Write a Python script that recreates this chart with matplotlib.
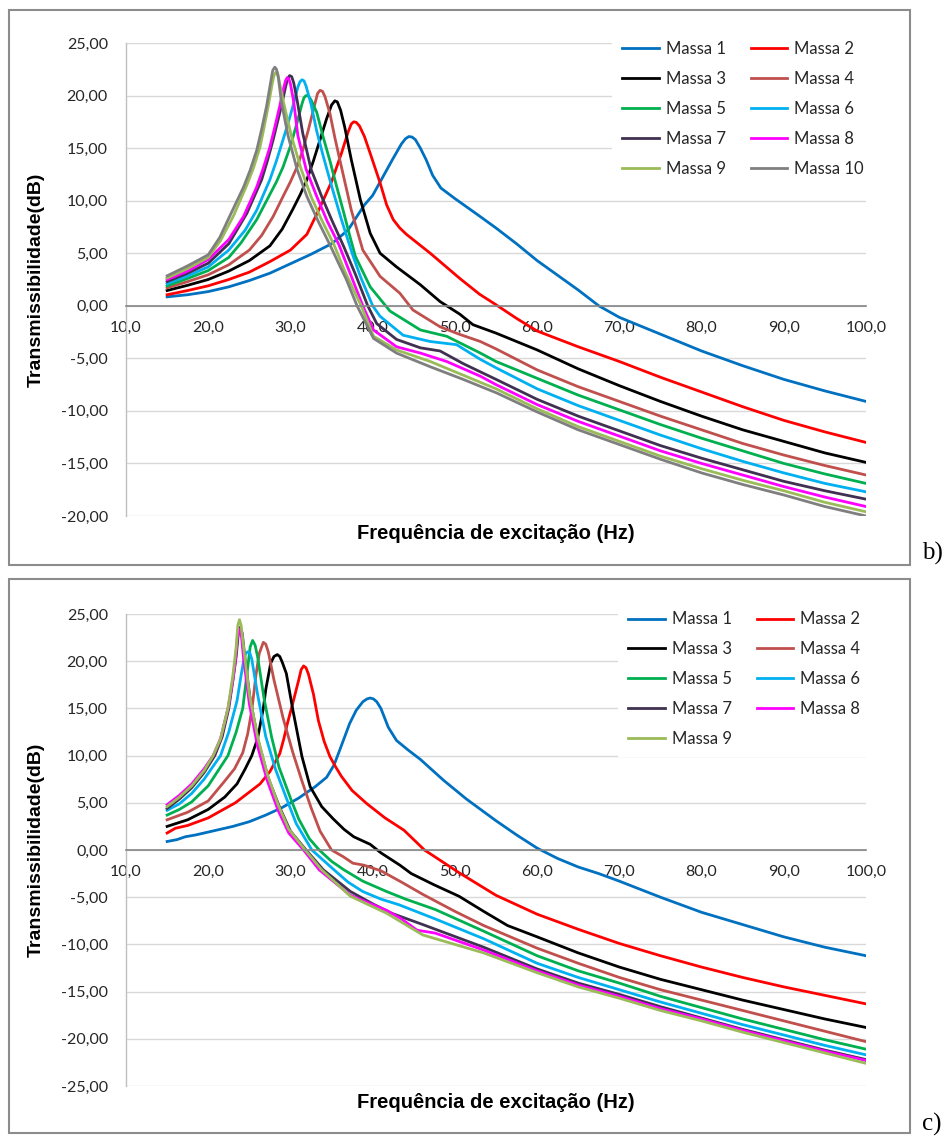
import matplotlib
matplotlib.use("Agg")
import matplotlib.pyplot as plt
from matplotlib.patches import Rectangle
from matplotlib.ticker import FuncFormatter, MultipleLocator

labels = ["Massa 1", "Massa 2", "Massa 3", "Massa 4", "Massa 5",
          "Massa 6", "Massa 7", "Massa 8", "Massa 9", "Massa 10"]
colors = ["#0070C0", "#FF0000", "#000000", "#C0504D", "#00B050",
          "#00B0F0", "#403152", "#FF00FF", "#9BBB59", "#7F7F7F"]

# ---- panel b) : 10 masses ----
b1_x = [15, 17.5, 20, 22.5, 25, 27.5, 30, 32.5, 35, 37, 39, 40, 41.2, 42.4, 43.5, 44.0, 44.4, 44.8, 45.2, 45.8, 46.5, 47.3, 48.3, 50, 52.7, 55, 57.5, 60, 62.5, 65, 67.5, 70, 75, 80, 85, 90, 95, 100]
b1_y = [0.85, 1.05, 1.35, 1.8, 2.4, 3.1, 4.0, 4.9, 5.9, 7.2, 9.6, 10.5, 12.2, 13.9, 15.4, 15.9, 16.1, 16.05, 15.8, 15.0, 13.9, 12.4, 11.2, 10.2, 8.7, 7.4, 5.9, 4.3, 2.9, 1.5, 0.0, -1.1, -2.7, -4.3, -5.7, -7.0, -8.1, -9.1]
b2_x = [15, 17.5, 20, 22.5, 25, 27.5, 30, 32, 33.5, 35, 36.2, 37.0, 37.4, 37.7, 38.0, 38.4, 39.0, 39.7, 40.9, 41.7, 42.5, 43.3, 44.1, 47, 50.6, 53, 55, 57.5, 60, 65, 70, 75, 80, 85, 90, 95, 100]
b2_y = [1.05, 1.45, 1.9, 2.5, 3.2, 4.2, 5.3, 6.8, 9.2, 11.8, 14.5, 16.5, 17.3, 17.5, 17.45, 17.1, 16.1, 14.5, 11.7, 9.6, 8.2, 7.4, 6.8, 5.0, 2.6, 1.1, 0.1, -1.2, -2.4, -3.9, -5.3, -6.8, -8.2, -9.6, -10.9, -12.0, -13.0]
b3_x = [15, 17.5, 20, 22.5, 25, 27.5, 29, 30.3, 31.2, 32.0, 32.8, 33.6, 34.4, 35.0, 35.4, 35.7, 36.1, 36.6, 37.4, 38.5, 39.7, 40.9, 42.9, 45.8, 48.2, 50.6, 52.2, 55, 60, 65, 70, 75, 80, 85, 90, 95, 100]
b3_y = [1.45, 1.95, 2.5, 3.3, 4.3, 5.7, 7.3, 9.2, 10.6, 12.0, 13.8, 15.8, 17.8, 19.1, 19.5, 19.4, 18.6, 17.0, 13.9, 10.1, 6.9, 5.0, 3.7, 2.0, 0.4, -0.8, -1.8, -2.6, -4.2, -6.0, -7.6, -9.1, -10.5, -11.8, -12.9, -14.0, -14.9]
b4_x = [15, 17.5, 20, 22.5, 25, 26.5, 27.9, 29.1, 30.0, 30.8, 31.5, 32.2, 33.0, 33.3, 33.6, 33.9, 34.2, 34.8, 35.4, 36.0, 37.4, 38.8, 40.9, 43.3, 44.9, 48.2, 50.5, 53.1, 55, 60, 65, 70, 75, 80, 85, 90, 95, 100]
b4_y = [1.7, 2.3, 2.95, 3.9, 5.3, 6.7, 8.5, 10.4, 11.8, 13.2, 14.8, 16.8, 19.3, 20.2, 20.5, 20.4, 19.9, 18.3, 16.0, 13.9, 9.1, 5.3, 2.8, 1.2, -0.4, -2.0, -2.7, -3.4, -4.1, -6.1, -7.7, -9.1, -10.5, -11.8, -13.1, -14.2, -15.2, -16.1]
b5_x = [15, 17.5, 20, 22.5, 24, 25.9, 27.5, 28.3, 29.1, 30.0, 30.8, 31.4, 31.65, 31.9, 32.2, 32.5, 33.2, 34.0, 34.8, 35.6, 36.4, 37.2, 37.9, 39.7, 42.1, 45.8, 49.0, 53.1, 55, 60, 65, 70, 75, 80, 85, 90, 95, 100]
b5_y = [1.9, 2.6, 3.35, 4.6, 6.0, 8.2, 10.6, 11.8, 13.2, 15.2, 17.4, 19.2, 19.8, 20.0, 19.95, 19.6, 18.4, 16.0, 13.8, 11.4, 9.1, 6.7, 4.7, 1.8, -0.5, -2.3, -2.9, -4.5, -5.3, -6.9, -8.5, -9.9, -11.3, -12.6, -13.8, -15.0, -16.0, -16.9]
b6_x = [15, 17.5, 20, 22.5, 24.5, 25.9, 27.5, 28.3, 29.1, 29.8, 30.3, 30.9, 31.15, 31.4, 31.65, 31.9, 32.5, 33.2, 34.0, 35.0, 36.2, 37.5, 38.5, 40.0, 40.9, 43.7, 47.0, 50.2, 53.1, 55, 60, 65, 70, 75, 80, 85, 90, 95, 100]
b6_y = [2.1, 2.85, 3.7, 5.3, 7.2, 9.1, 12.0, 13.8, 15.8, 17.6, 19.0, 20.8, 21.3, 21.5, 21.4, 20.9, 19.2, 16.6, 14.2, 11.4, 8.2, 5.0, 2.8, 0.0, -1.0, -2.8, -3.4, -3.7, -5.1, -5.9, -7.9, -9.5, -10.9, -12.3, -13.6, -14.8, -15.9, -16.9, -17.7]
b7_x = [15, 17.5, 20, 22.5, 24.7, 26.5, 27.2, 27.9, 28.4, 28.9, 29.4, 29.65, 29.9, 30.15, 30.4, 30.8, 31.5, 32.5, 33.8, 35.0, 36.5, 37.9, 39.4, 40.5, 42.9, 45.8, 48.2, 51.0, 55, 60, 65, 70, 75, 80, 85, 90, 95, 100]
b7_y = [2.3, 3.1, 4.05, 5.9, 8.8, 12.0, 13.8, 15.8, 17.4, 19.0, 20.8, 21.6, 21.9, 21.8, 21.2, 19.6, 16.4, 13.0, 10.4, 8.2, 5.6, 3.0, 0.0, -1.7, -3.2, -4.0, -4.3, -5.5, -7.0, -8.9, -10.5, -11.9, -13.3, -14.5, -15.6, -16.7, -17.6, -18.4]
b8_x = [15, 17.5, 20, 22.5, 24.3, 25.9, 26.7, 27.5, 28.1, 28.7, 29.2, 29.4, 29.6, 29.8, 30.0, 30.4, 30.9, 31.9, 33.2, 34.5, 35.9, 37.2, 38.8, 40.1, 42.9, 45.8, 49.0, 53.1, 55, 60, 65, 70, 75, 80, 85, 90, 95, 100]
b8_y = [2.5, 3.3, 4.4, 6.3, 8.5, 11.3, 13.1, 15.1, 17.0, 19.0, 20.8, 21.4, 21.7, 21.6, 21.1, 19.4, 16.2, 13.0, 10.4, 8.0, 5.8, 3.2, 0.0, -2.3, -3.9, -4.5, -5.3, -6.7, -7.5, -9.4, -11.0, -12.4, -13.8, -15.0, -16.1, -17.2, -18.2, -19.1]
b9_x = [15, 17.5, 20, 21.5, 23.1, 24.7, 25.5, 26.3, 26.8, 27.3, 27.8, 28.0, 28.2, 28.4, 28.6, 29.2, 30.1, 31.3, 32.5, 33.9, 35.3, 36.6, 38.6, 40.1, 42.9, 47.0, 51.0, 55, 60, 65, 70, 75, 80, 85, 90, 95, 100]
b9_y = [2.65, 3.55, 4.6, 6.2, 8.6, 11.5, 13.1, 15.1, 17.0, 19.0, 21.2, 21.9, 22.2, 22.1, 21.5, 19.2, 16.2, 13.0, 10.4, 8.0, 5.8, 3.3, 0.0, -2.9, -4.2, -5.3, -6.6, -7.9, -9.8, -11.5, -12.9, -14.3, -15.5, -16.6, -17.6, -18.7, -19.6]
b10_x = [15, 17.5, 20, 21.4, 22.6, 24.3, 25.1, 25.9, 26.5, 27.1, 27.6, 27.85, 28.1, 28.3, 28.5, 28.9, 29.7, 30.8, 32.0, 33.4, 34.8, 36.0, 36.8, 38.1, 40.1, 42.9, 47.0, 51.0, 55.1, 60, 65, 70, 75, 80, 85, 90, 95, 100]
b10_y = [2.85, 3.8, 4.85, 6.5, 8.5, 11.3, 12.9, 14.8, 16.8, 19.0, 21.3, 22.4, 22.7, 22.5, 21.9, 19.4, 16.2, 13.0, 10.4, 8.0, 5.8, 3.8, 2.5, 0.0, -3.1, -4.5, -5.8, -7.0, -8.3, -10.1, -11.8, -13.2, -14.6, -15.9, -17.0, -18.0, -19.1, -20.0]

# ---- panel c) : 9 masses ----
c1_x = [15, 16.2, 17.2, 18.5, 20, 23, 25, 27, 29, 31, 33, 34.4, 35.3, 36.0, 36.6, 37.2, 38.0, 38.8, 39.3, 39.7, 40.1, 40.5, 41.0, 41.9, 42.9, 44.3, 45.8, 48.6, 51.4, 55, 57.5, 60, 62.5, 65, 67.5, 70, 75, 80, 85, 90, 95, 100]
c1_y = [0.9, 1.1, 1.4, 1.6, 1.9, 2.5, 3.0, 3.7, 4.5, 5.5, 6.7, 7.7, 9.0, 10.6, 12.0, 13.4, 14.8, 15.7, 16.0, 16.1, 16.0, 15.7, 15.0, 13.0, 11.6, 10.6, 9.6, 7.4, 5.4, 3.1, 1.6, 0.2, -0.9, -1.8, -2.5, -3.3, -5.0, -6.6, -7.9, -9.2, -10.3, -11.2]
c2_x = [15, 16, 17.5, 20, 23.3, 26.3, 27.5, 28.7, 29.2, 29.6, 30.3, 31.0, 31.3, 31.6, 31.9, 32.2, 32.8, 33.4, 34.1, 34.8, 35.5, 36.2, 37.5, 39.3, 41.5, 43.8, 46.3, 50.5, 55, 60, 65, 70, 75, 80, 85, 90, 95, 100]
c2_y = [1.8, 2.3, 2.6, 3.4, 5.0, 7.0, 8.3, 10.2, 11.8, 13.3, 15.6, 18.0, 19.1, 19.5, 19.3, 18.6, 16.5, 13.7, 11.5, 9.9, 8.8, 7.8, 6.3, 4.9, 3.4, 2.1, 0.0, -2.4, -4.8, -6.8, -8.4, -9.9, -11.2, -12.4, -13.5, -14.5, -15.4, -16.3]
c3_x = [15, 17.5, 20, 22, 23.5, 24.5, 25.3, 26.0, 26.7, 27.0, 27.6, 28.0, 28.4, 28.7, 29.0, 29.5, 30.3, 31.4, 32.4, 33.8, 35.2, 36.5, 37.7, 39.7, 41.0, 43.3, 44.7, 47.5, 50.5, 53.5, 56.4, 60, 65, 70, 75, 80, 85, 90, 95, 100]
c3_y = [2.5, 3.2, 4.3, 5.6, 7.0, 8.6, 10.0, 11.8, 15.0, 17.0, 19.8, 20.5, 20.7, 20.5, 19.9, 18.7, 14.8, 9.9, 6.7, 4.6, 3.3, 2.2, 1.4, 0.6, -0.3, -1.6, -2.5, -3.7, -4.9, -6.5, -8.0, -9.2, -10.9, -12.4, -13.7, -14.8, -15.9, -16.9, -17.9, -18.8]
c4_x = [15, 17.5, 20, 22, 23.2, 24.2, 24.8, 25.3, 25.8, 26.2, 26.7, 27.0, 27.3, 28.0, 29.1, 30.3, 31.4, 32.5, 33.6, 35.0, 36.4, 37.6, 38.9, 41.0, 43.5, 46.1, 50, 53.5, 60, 65, 70, 75, 80, 85, 90, 95, 100]
c4_y = [3.2, 4.0, 5.2, 7.3, 8.6, 10.3, 12.3, 14.8, 18.5, 20.8, 22.0, 21.8, 21.0, 18.0, 14.0, 10.3, 7.3, 4.5, 2.0, 0.0, -0.7, -1.4, -1.6, -2.2, -3.4, -4.7, -6.5, -8.0, -10.4, -12.0, -13.5, -14.8, -15.9, -17.0, -18.1, -19.2, -20.3]
c5_x = [15, 16.5, 18, 20, 22.4, 23.4, 24.2, 24.8, 25.1, 25.4, 25.7, 26.0, 26.8, 27.7, 28.6, 30.0, 31.0, 32.3, 33.5, 35.0, 36.5, 38.8, 41.7, 44, 47.6, 53.5, 60, 65, 70, 75, 80, 85, 90, 95, 100]
c5_y = [3.7, 4.3, 5.1, 6.8, 10.0, 12.5, 15.0, 19.3, 21.5, 22.2, 21.7, 20.5, 16.0, 12.0, 8.8, 5.5, 3.3, 1.2, 0.0, -1.2, -2.1, -3.3, -4.4, -5.2, -6.3, -8.6, -11.2, -12.8, -14.1, -15.5, -16.7, -17.9, -19.0, -20.1, -21.1]
c6_x = [15, 16.5, 18, 19.5, 21.5, 22.5, 23.5, 24.0, 24.3, 24.55, 24.8, 25.05, 25.3, 26.0, 27.0, 28.2, 29.5, 30.7, 32.6, 35.3, 37.0, 38.8, 41.0, 43.2, 47.6, 53.5, 60, 65, 70, 75, 80, 85, 90, 95, 100]
c6_y = [4.2, 4.9, 6.0, 7.5, 10.0, 12.5, 15.8, 18.5, 20.0, 20.8, 21.0, 20.9, 20.2, 16.5, 12.0, 8.5, 5.5, 2.8, 0.0, -2.1, -3.4, -4.4, -5.2, -5.8, -7.3, -9.4, -12.0, -13.5, -14.8, -16.1, -17.3, -18.5, -19.6, -20.7, -21.7]
c7_x = [15, 16.5, 18, 19.5, 20.8, 21.7, 22.5, 23.0, 23.4, 23.65, 23.9, 24.15, 24.4, 25.1, 26.1, 27.3, 28.7, 30.0, 31.9, 34.0, 37.3, 40, 42.3, 46.1, 53.5, 60, 65, 70, 75, 80, 85, 90, 95, 100]
c7_y = [4.4, 5.4, 6.6, 8.2, 10.0, 12.0, 15.0, 18.0, 20.5, 22.8, 23.6, 22.9, 20.8, 16.0, 11.5, 7.6, 4.5, 2.0, 0.0, -2.1, -4.4, -5.7, -6.7, -7.9, -10.3, -12.6, -14.1, -15.3, -16.6, -17.8, -19.0, -20.1, -21.2, -22.2]
c8_x = [15, 16.5, 18, 19.5, 20.6, 21.5, 22.4, 23.0, 23.3, 23.55, 23.8, 24.05, 24.3, 25.0, 26.0, 27.2, 28.5, 29.8, 31.6, 33.5, 37.3, 41.7, 43.5, 45.4, 47.6, 53.5, 60, 65, 70, 75, 80, 85, 90, 95, 100]
c8_y = [4.8, 5.8, 7.0, 8.6, 10.0, 11.8, 15.0, 18.0, 20.0, 22.6, 23.4, 22.6, 20.3, 15.5, 11.0, 7.3, 4.2, 1.8, 0.0, -2.1, -4.8, -6.4, -7.3, -8.5, -8.8, -10.6, -12.8, -14.3, -15.5, -16.8, -17.9, -19.1, -20.2, -21.3, -22.3]
c9_x = [15, 16.5, 18, 19.5, 20.6, 21.5, 22.4, 23.0, 23.4, 23.6, 23.8, 24.0, 24.3, 25.0, 26.0, 27.2, 28.5, 29.8, 31.8, 33.8, 37.3, 41.7, 46.1, 53.5, 60, 65, 70, 75, 80, 85, 90, 95, 100]
c9_y = [4.6, 5.6, 6.8, 8.4, 10.0, 11.8, 15.0, 18.5, 21.5, 23.8, 24.4, 23.8, 21.5, 16.5, 12.0, 8.0, 4.8, 2.2, 0.0, -2.1, -4.9, -6.7, -9.0, -10.9, -13.0, -14.5, -15.7, -17.0, -18.1, -19.3, -20.4, -21.5, -22.6]

b_series = [(b1_x, b1_y), (b2_x, b2_y), (b3_x, b3_y), (b4_x, b4_y), (b5_x, b5_y),
            (b6_x, b6_y), (b7_x, b7_y), (b8_x, b8_y), (b9_x, b9_y), (b10_x, b10_y)]
c_series = [(c1_x, c1_y), (c2_x, c2_y), (c3_x, c3_y), (c4_x, c4_y), (c5_x, c5_y),
            (c6_x, c6_y), (c7_x, c7_y), (c8_x, c8_y), (c9_x, c9_y)]

W, H = 946, 1138
fig = plt.figure(figsize=(W / 100, H / 100), dpi=100)


def fx(px):
    return px / W


def fy(py):
    return 1 - py / H


def panel(series, top_px, bot_px, ymin, leg_left, leg_top, tag, tag_y):
    ax = fig.add_axes([fx(126), fy(bot_px), fx(866) - fx(126), fy(top_px) - fy(bot_px)])
    lines = []
    for (xs, ys), lab, col in zip(series, labels, colors):
        ln, = ax.plot(xs, ys, color=col, lw=2.0, label=lab, solid_joinstyle="round")
        lines.append(ln)
    ax.set_xlim(10, 100)
    ax.set_ylim(ymin, 25)
    ax.xaxis.set_major_locator(MultipleLocator(10))
    ax.yaxis.set_major_locator(MultipleLocator(5))
    ax.xaxis.set_major_formatter(FuncFormatter(lambda v, p: f"{v:.1f}".replace(".", ",")))
    ax.yaxis.set_major_formatter(FuncFormatter(lambda v, p: f"{v:.2f}".replace(".", ",")))
    ax.grid(axis="y", color="#d9d9d9", lw=1.0)
    ax.set_axisbelow(True)
    for s in ["top", "right"]:
        ax.spines[s].set_visible(False)
    ax.spines["bottom"].set_position(("data", 0))
    ax.spines["bottom"].set_color("#868686")
    ax.spines["bottom"].set_linewidth(1.2)
    ax.spines["left"].set_color("#bfbfbf")
    ax.spines["left"].set_linewidth(1.0)
    ax.tick_params(axis="both", length=0, labelsize=11.5)
    ax.tick_params(axis="x", pad=11)
    ax.tick_params(axis="y", pad=13)
    for t in ax.get_xticklabels() + ax.get_yticklabels():
        t.set_fontfamily("Lato")
        t.set_color("#262626")
    ax.set_ylabel("Transmissibilidade(dB)", fontsize=14, fontweight="bold",
                  family="Liberation Sans")
    ax.yaxis.set_label_coords((45 - 126) / 740, 0.5)
    ax.set_xlabel("Frequência de excitação (Hz)", fontsize=14.5, fontweight="bold",
                  family="Liberation Sans")
    ax.xaxis.label.set_va("center")
    ax.xaxis.set_label_coords(0.5, -(17 / (bot_px - top_px)))
    # legend filled row by row, as in the spreadsheet chart
    order = list(range(0, len(lines), 2)) + list(range(1, len(lines), 2))
    leg = ax.legend([lines[i] for i in order], [labels[i] for i in order],
                    loc="upper left", bbox_to_anchor=(fx(leg_left), fy(leg_top)),
                    bbox_transform=fig.transFigure, ncol=2, frameon=True,
                    fancybox=False, edgecolor="none", facecolor="white", framealpha=1,
                    prop={"family": "Lato", "size": 12}, handlelength=2.2,
                    handletextpad=0.4, columnspacing=1.5, labelspacing=0.83,
                    borderpad=0.6)
    for t in leg.get_texts():
        t.set_color("#262626")
    fig.text(fx(932), fy(tag_y), tag, fontsize=18, family="Liberation Serif",
             ha="center", va="center")
    return ax


fig.patches.append(Rectangle((fx(9), fy(565)), fx(910) - fx(9), fy(10) - fy(565),
                             transform=fig.transFigure, fill=False,
                             edgecolor="#8c8c8c", lw=1.5))
fig.patches.append(Rectangle((fx(9), fy(1133)), fx(910) - fx(9), fy(579) - fy(1133),
                             transform=fig.transFigure, fill=False,
                             edgecolor="#8c8c8c", lw=1.5))

panel(b_series, 43, 516, -20, 604, 23, "b)", 553)
panel(c_series, 614, 1086, -25, 610, 593, "c)", 1124)

fig.savefig("out.png", dpi=100)
